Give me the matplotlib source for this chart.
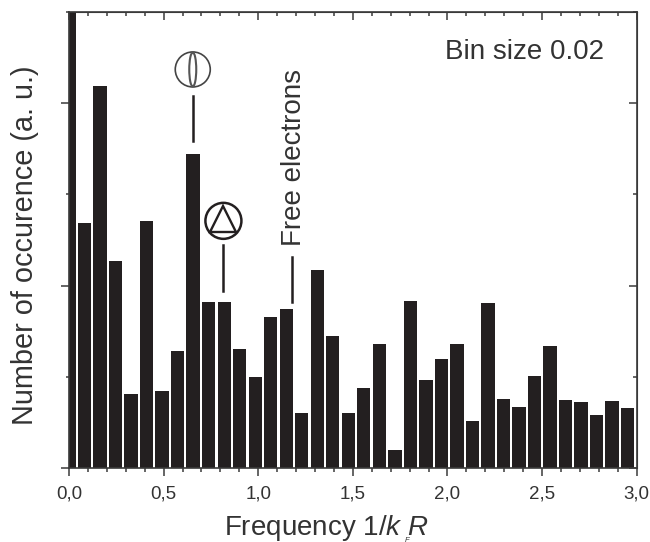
import numpy as np
import matplotlib
matplotlib.use('Agg')
import matplotlib.pyplot as plt
from matplotlib.patches import Ellipse

plt.rcParams['font.family'] = ['Liberation Sans', 'DejaVu Sans']
plt.rcParams['mathtext.fontset'] = 'custom'
plt.rcParams['mathtext.rm'] = 'Liberation Sans'
plt.rcParams['mathtext.it'] = 'Liberation Sans:italic'

# bar heights, in units of one minor y tick
heights = [5.2, 2.69, 4.19, 2.27, 0.81, 2.71, 0.84, 1.28, 3.44, 1.82, 1.82, 1.30, 1.00,
           1.66, 1.74, 0.60, 2.17, 1.45, 0.60, 0.88, 1.36, 0.20, 1.83, 0.97, 1.19, 1.36,
           0.52, 1.81, 0.76, 0.67, 1.01, 1.34, 0.75, 0.72, 0.58, 0.74, 0.66]
bin_step = 0.082
x_ticks = [0.0, 0.5, 1.0, 1.5, 2.0, 2.5, 3.0]
x_labels = ['0,0', '0,5', '1,0', '1,5', '2,0', '2,5', '3,0']

INK = '#231f20'
AXIS = '#3a3a3a'
TEXT = '#333333'

fig = plt.figure(figsize=(6.5, 5.42), dpi=100)
ax = fig.add_axes([69 / 650, 74 / 542, 567.7 / 650, 456 / 542])

centers = np.arange(len(heights)) * bin_step
ax.bar(centers, heights, width=0.0705, color=INK, edgecolor='none')

ax.set_xlim(0, 3)
ax.set_ylim(0, 5)
ax.set_xticks(x_ticks)
ax.set_xticklabels(x_labels)
ax.set_xticks(np.arange(0.1, 3, 0.1), minor=True)
ax.set_yticks([0, 2, 4])
ax.set_yticks([1, 3, 5], minor=True)
ax.set_yticklabels([])

ax.tick_params(axis='x', which='major', direction='out', length=5.8, width=1.1, color=AXIS,
               labelsize=13.5, labelcolor=TEXT, pad=7)
ax.tick_params(axis='x', which='minor', direction='out', length=3, width=1.1, color=AXIS)
ax.tick_params(axis='y', which='major', direction='out', length=5.8, width=1.1, color=AXIS)
ax.tick_params(axis='y', which='minor', direction='out', length=2.5, width=1.1, color=AXIS)
for spine in ax.spines.values():
    spine.set_color(AXIS)
    spine.set_linewidth(1.2)

# mirrored ticks on top and right point inward
top = ax.secondary_xaxis('top')
top.set_xticks(x_ticks)
top.set_xticklabels([])
top.set_xticks(np.arange(0.1, 3, 0.1), minor=True)
top.tick_params(which='major', direction='in', length=5.8, width=1.1, color=AXIS)
top.tick_params(which='minor', direction='in', length=3, width=1.1, color=AXIS)
top.spines['top'].set_color(AXIS)
right = ax.secondary_yaxis('right')
right.set_yticks([0, 2, 4])
right.set_yticklabels([])
right.set_yticks([1, 3, 5], minor=True)
right.tick_params(which='major', direction='in', length=5.8, width=1.1, color=AXIS)
right.tick_params(which='minor', direction='in', length=3, width=1.1, color=AXIS)
right.spines['right'].set_color(AXIS)

# x label: the subscript F sits right at the bottom edge
fig.text(326 / 650, 1 - 535 / 542, r'Frequency 1/$k\,\,R$', fontsize=20, color=TEXT,
         ha='center', va='baseline')
fig.text(407 / 650, 1 - 541.5 / 542, 'F', fontsize=5.5, color=TEXT, style='italic',
         ha='center', va='baseline')
fig.text(25 / 650, 1 - 245 / 542, 'Number of occurence (a. u.)', fontsize=20.8, color=TEXT,
         rotation=90, ha='center', va='center')

ax.text(2.405, 4.56, 'Bin size 0.02', fontsize=20, color=TEXT, ha='center', va='center')
ax.text(1.19, 3.40, 'Free electrons', fontsize=20, color=TEXT, rotation=90,
        ha='center', va='center')

# pointer lines above the labelled bars
ax.plot([0.654, 0.654], [3.59, 4.08], color=INK, lw=1.8)
ax.plot([0.816, 0.816], [1.94, 2.45], color=INK, lw=1.8)
ax.plot([1.178, 1.178], [1.82, 2.31], color=INK, lw=1.8)

# orbit icons
ax.add_patch(Ellipse((0.654, 4.37), 35 / 189.2, 35 / 91.2, fill=False, ec='#444444', lw=1.2))
ax.add_patch(Ellipse((0.654, 4.37), 7 / 189.2, 34 / 91.2, fill=False, ec='#555555', lw=1.5))
ax.add_patch(Ellipse((0.816, 2.71), 36 / 189.2, 36 / 91.2, fill=False, ec=INK, lw=1.8))
ax.plot([0.816], [2.73], marker='^', ms=19, mfc='none', mec=INK, mew=1.7)

fig.savefig('out.png', dpi=100)
